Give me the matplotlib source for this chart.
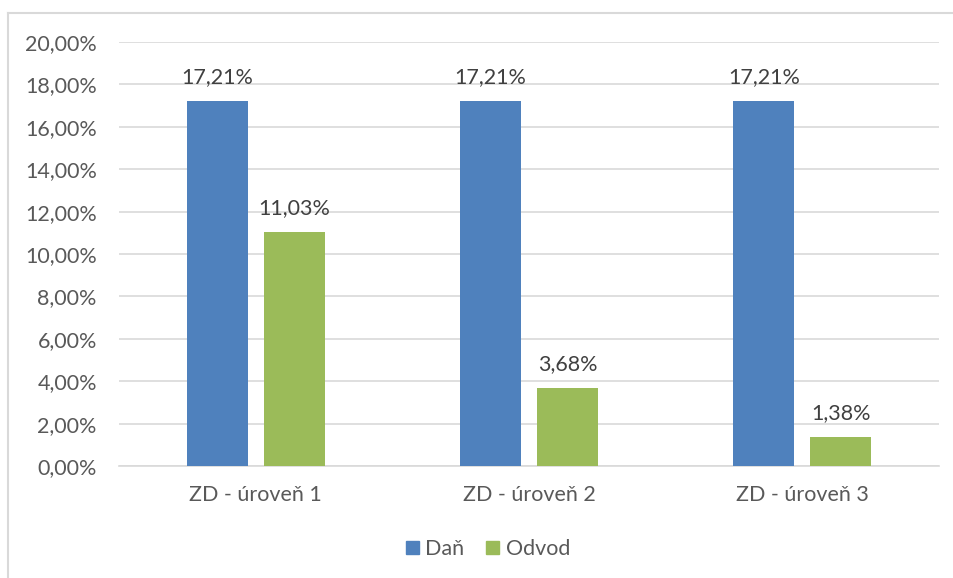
import matplotlib
matplotlib.use("Agg")
import matplotlib.pyplot as plt
from matplotlib.lines import Line2D
from matplotlib.ticker import FuncFormatter, MultipleLocator
import numpy as np

categories = ["ZD - úroveň 1", "ZD - úroveň 2", "ZD - úroveň 3"]
dan = [17.21, 17.21, 17.21]
odvod = [11.03, 3.68, 1.38]
series_names = ["Daň", "Odvod"]
colors = ["#4F81BD", "#9BBB59"]

plt.rcParams['font.family'] = ['Lato', 'DejaVu Sans']
FS = 15.5

W, H = 954, 578
fig = plt.figure(figsize=(W/100, H/100), dpi=100)
ax = fig.add_axes([119/W, 1-466/H, (939-119)/W, (466-42)/H])

x = np.arange(len(categories))
bw = 0.223
off = 0.281 / 2
b1 = ax.bar(x - off, dan, bw, color=colors[0], label=series_names[0], zorder=3)
b2 = ax.bar(x + off, odvod, bw, color=colors[1], label=series_names[1], zorder=3)

def fmt(v):
    return f"{v:.2f}".replace(".", ",") + "%"

for bars, vals in ((b1, dan), (b2, odvod)):
    for r, v in zip(bars, vals):
        ax.annotate(fmt(v), (r.get_x() + r.get_width()/2, v), xytext=(0, 10),
                    textcoords="offset points", ha="center", va="bottom",
                    fontsize=FS, color="#404040")

ax.set_xlim(-0.5, 2.5)
ax.set_ylim(0, 20)
ax.yaxis.set_major_locator(MultipleLocator(2))
ax.yaxis.set_major_formatter(FuncFormatter(lambda v, p: fmt(v)))
ax.set_xticks(x)
ax.set_xticklabels(categories)
ax.tick_params(axis="both", length=0, labelsize=FS, labelcolor="#595959")
ax.tick_params(axis="x", pad=14)
ax.tick_params(axis="y", pad=16)
ax.grid(axis="y", color="#D9D9D9", linewidth=1.2, zorder=0)
for s in ["top", "right", "left"]:
    ax.spines[s].set_visible(False)
ax.spines["bottom"].set_color("#D9D9D9")
ax.spines["bottom"].set_linewidth(1.2)

handles = [plt.Rectangle((0, 0), 1, 1, color=c) for c in colors]
fig.legend(handles, series_names, loc="center", bbox_to_anchor=(488/W, 1-549/H),
           ncol=2, frameon=False, fontsize=FS, labelcolor="#595959",
           handlelength=0.6, handleheight=0.6, handletextpad=0.3, columnspacing=1.0)

# chart border (top and left visible)
fig.add_artist(Line2D([8/W, 1], [1-13/H, 1-13/H], color="#D9D9D9", linewidth=1.5))
fig.add_artist(Line2D([8/W, 8/W], [0, 1-13/H], color="#D9D9D9", linewidth=1.5))

fig.savefig("out.png", dpi=100)
